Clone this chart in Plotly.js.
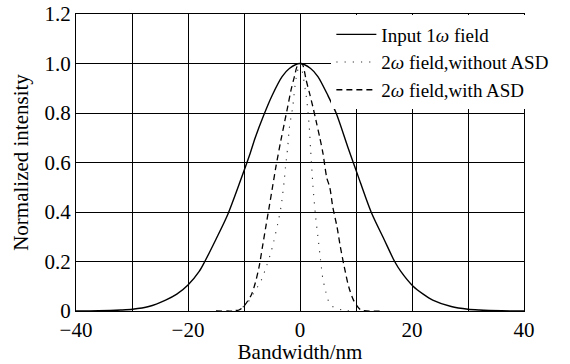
<!DOCTYPE html>
<html>
<head>
<meta charset="utf-8">
<script src="https://cdn.plot.ly/plotly-3.0.1.min.js"></script>
<style>html,body{margin:0;padding:0;background:#fff;}#chart{width:570px;height:364px;}</style>
</head>
<body>
<div id="chart"></div>
<script>
// Input 1ω field (solid)
var inputX = [-40,-36,-32,-29.9,-27,-24,-22,-20,-18,-17,-15,-12.9,-10.5,-9,-8,-6.5,-5,-3.2,-1.9,0,1.9,3.2,5,6.45,8.5,10.3,12.7,15,16.9,18,20.2,22,23.7,27,30,32,36,40];
var inputY = [0,0.001,0.004,0.007,0.018,0.044,0.068,0.105,0.16,0.20,0.29,0.39,0.535,0.63,0.70,0.79,0.87,0.947,0.98,1.0,0.98,0.947,0.87,0.80,0.665,0.55,0.40,0.29,0.20,0.16,0.10,0.068,0.044,0.018,0.007,0.004,0.001,0];

// 2ω field, without ASD (dotted)
var noAsdX = [-13,-11,-9.5,-8.3,-7.5,-6.9,-6.0,-5.2,-4.7,-4.0,-3.4,-2.8,-2.6,-2.2,-1.9,-1.3,-0.7,0,1.1,1.6,1.9,2.3,2.75,3.3,3.65,4.1,4.4,5.1,6.0,7.6,9.2];
var noAsdY = [0,0.005,0.03,0.07,0.10,0.125,0.18,0.236,0.28,0.35,0.42,0.53,0.58,0.66,0.74,0.825,0.94,1.0,0.87,0.76,0.65,0.51,0.39,0.28,0.21,0.127,0.098,0.04,0.015,0.004,0];

// 2ω field, with ASD (dashed)
var asdX = [-15,-12,-10.9,-10.1,-8.7,-8.0,-7.3,-6.7,-6.1,-5.5,-4.9,-4.3,-3.4,-2.8,-2.2,-1.6,-1.0,-0.4,0.2,0.5,1.1,1.7,2.3,2.9,3.5,4.1,4.8,5.3,5.85,6.6,7.2,7.9,8.7,9.55,10.3,11,14.7];
var asdY = [0,0,0.004,0.017,0.065,0.112,0.179,0.26,0.341,0.421,0.502,0.583,0.691,0.758,0.825,0.893,0.947,0.994,1.0,0.994,0.933,0.88,0.825,0.765,0.704,0.637,0.536,0.502,0.421,0.341,0.26,0.179,0.098,0.044,0.017,0.003,0];

// Tick labels
var xTickVals = [-40,-30,-20,-10,0,10,20,30,40];
var xTickText = ['\u221240','','\u221220','','0','','20','','40'];
var yTickVals = [0,0.2,0.4,0.6,0.8,1.0,1.2];
var yTickText = ['0','0.2','0.4','0.6','0.8','1.0','1.2'];

var font = '"Liberation Serif", "Times New Roman", serif';

var traces = [
  {x: inputX, y: inputY, mode: 'lines', name: 'Input 1<i>ω</i> field',
   line: {color: '#000', width: 1.4, shape: 'spline', smoothing: 0.8}},
  {x: noAsdX, y: noAsdY, mode: 'lines', name: '2<i>ω</i> field,without ASD',
   line: {color: '#333', width: 1.1, dash: '1.2px,7px', shape: 'spline', smoothing: 0.8}},
  {x: asdX, y: asdY, mode: 'lines', name: '2<i>ω</i> field,with ASD',
   line: {color: '#000', width: 1.3, dash: '6px,4px', shape: 'spline', smoothing: 0.8}}
];

var layout = {
  width: 570, height: 364,
  margin: {l: 76, r: 46, t: 13.5, b: 53},
  paper_bgcolor: '#fff', plot_bgcolor: '#fff',
  font: {family: font, size: 20, color: '#000'},
  showlegend: true,
  legend: {x: 0.57, y: 0.995, xanchor: 'left', yanchor: 'top', bgcolor: '#fff',
           borderwidth: 0, font: {family: font, size: 19, color: '#000'},
           itemwidth: 40, tracegroupgap: 0},
  xaxis: {range: [-40, 40], tickvals: xTickVals, ticktext: xTickText,
          showgrid: true, gridcolor: '#000', gridwidth: 1, zeroline: false,
          showline: true, linecolor: '#000', linewidth: 1, mirror: true,
          ticks: '', tickfont: {family: font, size: 21},
          title: {text: 'Bandwidth/nm', font: {family: font, size: 21}, standoff: 0}},
  yaxis: {range: [0, 1.2], tickvals: yTickVals, ticktext: yTickText,
          showgrid: true, gridcolor: '#000', gridwidth: 1, zeroline: false,
          showline: true, linecolor: '#000', linewidth: 1, mirror: true,
          ticks: '', tickfont: {family: font, size: 21},
          title: {text: 'Normalized intensity', font: {family: font, size: 21}, standoff: 10}}
};

Plotly.newPlot('chart', traces, layout, {displayModeBar: false, staticPlot: true});
</script>
</body>
</html>
